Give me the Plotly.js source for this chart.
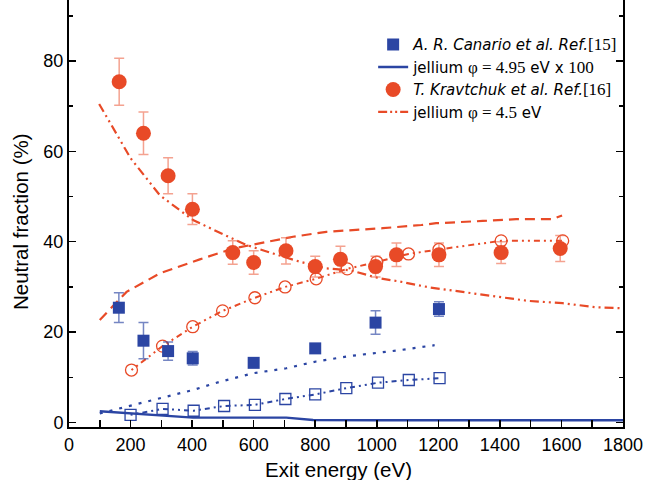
<!DOCTYPE html>
<html>
<head>
<meta charset="utf-8">
<script src="https://cdn.plot.ly/plotly-3.0.1.min.js"></script>
<style>body{margin:0;padding:0;background:#fff}#chart{width:647px;height:480px}</style>
</head>
<body>
<div id="chart"></div>
<script>
// Experimental data: A. R. Canario et al. (filled blue squares)
const canarioX = [162, 242, 322, 402, 600, 800, 996, 1202];
const canarioY = [25.4, 18.1, 15.8, 14.2, 13.2, 16.4, 22.1, 25.1];
const canarioErr = [3.3, 4.0, 2.0, 1.5, 1.0, 0.8, 2.6, 1.6];

// Experimental data: T. Kravtchuk et al. (filled red circles)
const kravX = [163, 242, 322, 401, 532, 600, 705, 800, 882, 996, 1064, 1202, 1404, 1596];
const kravY = [75.4, 64.0, 54.6, 47.2, 37.6, 35.4, 38.0, 34.5, 36.1, 34.5, 37.1, 37.1, 37.6, 38.5];
const kravErr = [5.2, 4.7, 4.0, 3.4, 2.6, 2.6, 2.9, 2.3, 2.9, 2.3, 2.6, 2.6, 2.4, 2.9];

// Calculated: open red circles
const openRedX = [203, 304, 402, 499, 604, 702, 803, 904, 1000, 1103, 1202, 1404, 1604];
const openRedY = [11.6, 16.9, 21.2, 24.7, 27.6, 30.0, 31.8, 34.0, 35.5, 37.3, 38.3, 40.2, 40.2];

// Calculated: open blue squares
const openBlueX = [200, 304, 405, 504, 604, 703, 800, 901, 1004, 1104, 1204];
const openBlueY = [1.7, 3.0, 2.6, 3.65, 3.9, 5.2, 6.2, 7.6, 8.8, 9.4, 9.8];

// jellium phi = 4.5 eV (red dash-dot-dot, decreasing)
const jel45X = [98, 165, 200, 295, 403, 490, 576, 663, 749, 836, 912, 1009, 1074, 1171, 1301, 1396, 1494, 1604, 1712, 1794];
const jel45Y = [70.5, 62.5, 58.5, 50.3, 44.8, 42.0, 39.3, 37.4, 35.6, 34.1, 33.7, 31.9, 31.2, 29.9, 28.6, 27.8, 26.9, 26.4, 25.5, 25.3];

// red dashed curve (increasing)
const redDashX = [100, 187, 295, 425, 533, 620, 728, 836, 912, 1020, 1145, 1193, 1344, 1453, 1571, 1602];
const redDashY = [22.7, 28.9, 33.0, 36.1, 38.5, 39.6, 41.1, 42.2, 42.5, 43.0, 43.7, 44.1, 44.6, 45.0, 45.0, 45.8];

// blue dotted curve (increasing)
const blueDotX = [100, 187, 295, 403, 490, 598, 706, 803, 912, 998, 1074, 1188];
const blueDotY = [2.0, 3.5, 5.4, 7.2, 9.0, 10.9, 12.0, 13.5, 14.7, 15.4, 16.0, 17.1];

// jellium phi = 4.95 eV x 100 (blue solid)
const jel495X = [100, 197, 295, 403, 706, 793, 1000, 1400, 1800];
const jel495Y = [2.5, 2.0, 1.65, 1.07, 1.07, 0.55, 0.5, 0.5, 0.5];

const xTitle = 'Exit energy (eV)';
const yTitle = 'Neutral fraction (%)';

const RED = '#e84a27';
const RED_ERR = 'rgba(236,100,70,0.6)';
const BLUE = '#2b45a3';
const BLUE_ERR = 'rgba(43,69,163,0.65)';
const SANS = 'Liberation Sans, Arial, sans-serif';
const LEG = 'DejaVu Sans, sans-serif';
const serif = s => '<span style="font-family:Liberation Serif;font-size:17px">' + s + '</span>';

const traces = [
  {x: jel45X, y: jel45Y, mode: 'lines', showlegend: false,
   line: {color: RED, width: 2.2, dash: '9px,4px,2px,4px,2px,4px'}},
  {x: redDashX, y: redDashY, mode: 'lines', showlegend: false,
   line: {color: RED, width: 2.2, dash: '10px,6px'}},
  {x: openRedX, y: openRedY, mode: 'lines+markers', showlegend: false,
   line: {color: RED, width: 2, dash: '2px,4px,2px,4px,6px,4px'},
   marker: {symbol: 'circle-open', size: 12, color: RED, line: {width: 1.3}}},
  {x: blueDotX, y: blueDotY, mode: 'lines', showlegend: false,
   line: {color: BLUE, width: 2.2, dash: '3px,7px'}},
  {x: openBlueX, y: openBlueY, mode: 'lines+markers', showlegend: false,
   line: {color: BLUE, width: 2, dash: '2px,4px,2px,4px,5px,4px'},
   marker: {symbol: 'square-open', size: 11, color: BLUE, line: {width: 1.3}}},
  {x: canarioX, y: canarioY, mode: 'markers', name: '<i>A. R. Canario et al. Ref.</i>' + serif('[15]'),
   marker: {symbol: 'square', size: 12, color: BLUE},
   error_y: {type: 'data', array: canarioErr, color: BLUE_ERR, thickness: 1.5, width: 5}},
  {x: jel495X, y: jel495Y, mode: 'lines', name: 'jellium ' + serif('φ = 4.95') + ' eV x ' + serif('100'),
   line: {color: BLUE, width: 2.4}},
  {x: kravX, y: kravY, mode: 'markers', name: '<i>T. Kravtchuk et al. Ref.</i>' + serif('[16]'),
   marker: {symbol: 'circle', size: 15, color: RED},
   error_y: {type: 'data', array: kravErr, color: RED_ERR, thickness: 1.5, width: 5}},
  {x: [null], y: [null], mode: 'lines', name: 'jellium ' + serif('φ = 4.5') + ' eV',
   line: {color: RED, width: 2.2, dash: '9px,3px,2px,3px,2px,3px'}}
];

const layout = {
  width: 647, height: 480,
  margin: {l: 69, r: 24, t: 0, b: 53},
  paper_bgcolor: '#fff', plot_bgcolor: '#fff',
  font: {family: SANS, color: '#000', size: 18},
  showlegend: true,
  legend: {x: 0.549, y: 0.934, xanchor: 'left', yanchor: 'top', bgcolor: 'rgba(0,0,0,0)',
    font: {size: 15, family: LEG}, tracegroupgap: 0},
  xaxis: {
    range: [0, 1800], dtick: 200, tick0: 0, ticks: 'inside', ticklen: 7, tickwidth: 1.5,
    tickcolor: '#000', showline: true, linecolor: '#000', linewidth: 2, mirror: false,
    showgrid: false, zeroline: false, tickfont: {size: 18},
    minor: {dtick: 100, ticks: 'inside', ticklen: 7, tickwidth: 1.5, tickcolor: '#000', showgrid: false}
  },
  yaxis: {
    range: [-1, 93.5], dtick: 20, tick0: 0, ticks: 'inside', ticklen: 7, tickwidth: 1.5,
    tickcolor: '#000', showline: true, linecolor: '#000', linewidth: 2, mirror: 'ticks',
    showgrid: false, zeroline: false, tickfont: {size: 18},
    minor: {dtick: 10, ticks: 'inside', ticklen: 4, tickwidth: 1.5, tickcolor: '#000', showgrid: false}
  },
  annotations: [
    {text: xTitle, xref: 'paper', yref: 'paper', x: 0.4856, y: -0.099, xanchor: 'center', yanchor: 'middle',
     showarrow: false, font: {size: 20.5, family: SANS}},
    {text: yTitle, xref: 'paper', yref: 'paper', x: -0.0884, y: 0.48, xanchor: 'center', yanchor: 'middle',
     textangle: -90, showarrow: false, font: {size: 20.5, family: SANS}}
  ]
};

Plotly.newPlot('chart', traces, layout, {displayModeBar: false, staticPlot: true});
</script>
</body>
</html>
